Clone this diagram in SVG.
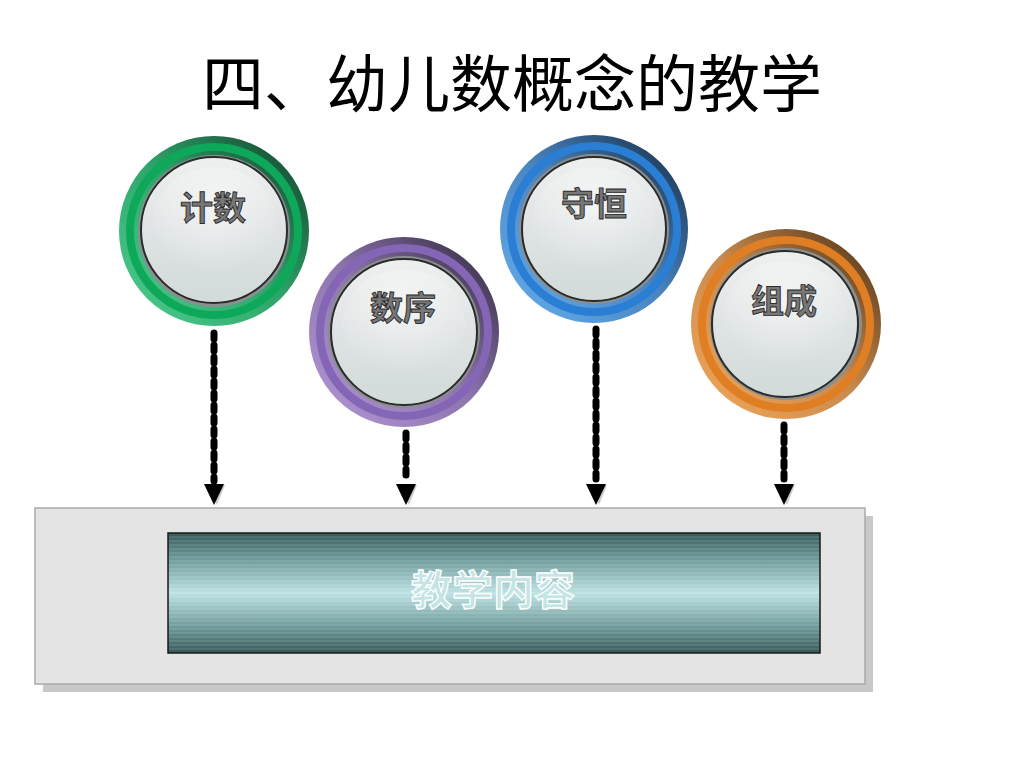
<svg xmlns="http://www.w3.org/2000/svg" width="1024" height="768" viewBox="0 0 1024 768">
<style>
.title{font-family:"Noto Sans CJK SC","Liberation Sans",sans-serif;font-size:62px;fill:#000}
.btxt{font-family:"Noto Sans CJK SC","Liberation Sans",sans-serif;font-size:33px;font-weight:bold;fill:#777;stroke:#2a2a2a;stroke-width:0.9;text-anchor:middle}
.ctxt{font-family:"Noto Sans CJK SC","Liberation Sans",sans-serif;font-size:41px;font-weight:bold;fill:#c4e4e6;stroke:#ffffff;stroke-width:1.3;text-anchor:middle}
.btn{fill:url(#btnG);stroke:#2b2b2b;stroke-width:2}
.btnEdge{fill:#8a8f90}
.hl{fill:url(#hlG)}
.dash{fill:none;stroke:#000;stroke-width:7;stroke-dasharray:6 6;stroke-linecap:round}
</style>
<defs>
<linearGradient id="gOut" x1="0" y1="1" x2="1" y2="0"><stop offset="0" stop-color="#4fd08f"/><stop offset="0.5" stop-color="#2ea56a"/><stop offset="1" stop-color="#123d28"/></linearGradient>
<linearGradient id="pOut" x1="0" y1="1" x2="1" y2="0"><stop offset="0" stop-color="#b49ad8"/><stop offset="0.5" stop-color="#8c74ad"/><stop offset="1" stop-color="#2e2538"/></linearGradient>
<linearGradient id="bOut" x1="0" y1="1" x2="1" y2="0"><stop offset="0" stop-color="#66b0f0"/><stop offset="0.5" stop-color="#4a85c0"/><stop offset="1" stop-color="#142a40"/></linearGradient>
<linearGradient id="oOut" x1="0" y1="1" x2="1" y2="0"><stop offset="0" stop-color="#f4a858"/><stop offset="0.5" stop-color="#c98a4e"/><stop offset="1" stop-color="#4a2e12"/></linearGradient>
<linearGradient id="btnG" x1="0" y1="0" x2="0" y2="1"><stop offset="0" stop-color="#eef0f0"/><stop offset="0.5" stop-color="#dfe3e3"/><stop offset="1" stop-color="#d2dada"/></linearGradient>
<radialGradient id="hlG" cx="0.5" cy="0.35" r="0.6"><stop offset="0" stop-color="#ffffff" stop-opacity="0.55"/><stop offset="1" stop-color="#ffffff" stop-opacity="0"/></radialGradient>
<linearGradient id="tealG" x1="0" y1="0" x2="0" y2="1"><stop offset="0" stop-color="#355a58"/><stop offset="0.2" stop-color="#6a9594"/><stop offset="0.5" stop-color="#bde2e4"/><stop offset="0.8" stop-color="#6a9594"/><stop offset="1" stop-color="#355a58"/></linearGradient>
<pattern id="stripes" width="8" height="4" patternUnits="userSpaceOnUse"><rect width="8" height="2" fill="#ffffff" opacity="0.09"/></pattern>
<g id="arrowHead"><polygon points="-7,1 11,1 3,21" fill="#b8b8b8" opacity="0.7"/><polygon points="-10,0 10,0 0,21" fill="#000"/></g>
</defs>
<rect width="1024" height="768" fill="#ffffff"/>
<text class="title" x="512" y="107" text-anchor="middle">四、幼儿数概念的教学</text>

<g id="connectors">
<line class="dash" x1="214" y1="333" x2="214" y2="481"/>
<use href="#arrowHead" x="214" y="484"/>
<line class="dash" x1="406" y1="433" x2="406" y2="481"/>
<use href="#arrowHead" x="406" y="484"/>
<line class="dash" x1="596" y1="329" x2="596" y2="481"/>
<use href="#arrowHead" x="596" y="484"/>
<line class="dash" x1="784" y1="425" x2="784" y2="481"/>
<use href="#arrowHead" x="784" y="484"/>
</g>

<g id="content">
<rect x="43" y="516" width="830" height="176" fill="#c8c8c8"/>
<rect x="35" y="508" width="830" height="176" fill="#e4e4e4" stroke="#aaaaaa" stroke-width="1.5"/>
<rect x="168" y="533" width="652" height="120" fill="url(#tealG)" stroke="#1a1a1a" stroke-width="1.5"/>
<rect x="169" y="534" width="650" height="118" fill="url(#stripes)"/>
<text class="ctxt" x="493" y="605">教学内容</text>
</g>

<g id="node-jishu">
<circle cx="214" cy="231" r="95" fill="url(#gOut)"/>
<circle cx="214" cy="231" r="84" fill="none" stroke="#0ea85a" stroke-width="8"/>
<circle cx="214" cy="231" r="76" class="btnEdge"/>
<circle cx="214" cy="230" r="73" class="btn"/>
<ellipse cx="214" cy="222" rx="62" ry="55" class="hl"/>
<text class="btxt" x="213" y="220">计数</text>
</g>

<g id="node-shuxu">
<circle cx="404" cy="332" r="95" fill="url(#pOut)"/>
<circle cx="404" cy="332" r="84" fill="none" stroke="#8566b6" stroke-width="8"/>
<circle cx="404" cy="332" r="76" class="btnEdge"/>
<circle cx="404" cy="332" r="73" class="btn"/>
<ellipse cx="404" cy="324" rx="62" ry="55" class="hl"/>
<text class="btxt" x="403" y="320">数序</text>
</g>

<g id="node-shouheng">
<circle cx="594" cy="229" r="94" fill="url(#bOut)"/>
<circle cx="594" cy="229" r="83" fill="none" stroke="#2a7ed4" stroke-width="8"/>
<circle cx="594" cy="229" r="75" class="btnEdge"/>
<circle cx="594" cy="229" r="72" class="btn"/>
<ellipse cx="594" cy="221" rx="61" ry="54" class="hl"/>
<text class="btxt" x="594" y="216">守恒</text>
</g>

<g id="node-zucheng">
<circle cx="786" cy="324" r="95" fill="url(#oOut)"/>
<circle cx="786" cy="324" r="84" fill="none" stroke="#df7e22" stroke-width="8"/>
<circle cx="786" cy="324" r="76" class="btnEdge"/>
<circle cx="785" cy="324" r="73" class="btn"/>
<ellipse cx="785" cy="316" rx="62" ry="55" class="hl"/>
<text class="btxt" x="784" y="313">组成</text>
</g>
</svg>
